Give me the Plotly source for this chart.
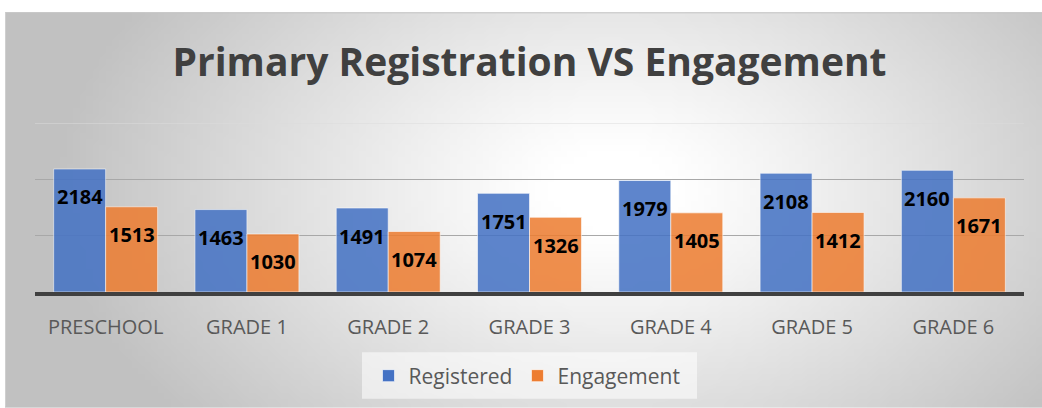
import base64, struct, zlib
import numpy as np
import plotly.graph_objects as go

# ---------------- data ----------------
categories = ["PRESCHOOL", "GRADE 1", "GRADE 2", "GRADE 3", "GRADE 4", "GRADE 5", "GRADE 6"]
registered = [2184, 1463, 1491, 1751, 1979, 2108, 2160]
engagement = [1513, 1030, 1074, 1326, 1405, 1412, 1671]
y_ticks = [0, 1000, 2000, 3000]

# ---------------- layout geometry (screen px) ----------------
W, H = 1042, 408
PL, PR, PT, PB = 35, 1024, 123, 294          # plot area on screen
L, T, R, B = PL, PT, W - PR, H - PB
PW, PH = PR - PL, PB - PT
BARGAP = 0.264

px2x = lambda p: (p - PL) / PW
px2y = lambda p: (PB - p) / PH

# ---------------- radial gradient background (PNG data URI) ----------------
def gradient_uri(w=160, h=64):
    fx0, fy0, fw, fh = 5, 11, 1037, 397
    u = (np.arange(w) + 0.5) / w
    v = (np.arange(h) + 0.5) / h
    X = fx0 + u[None, :] * fw
    Y = fy0 + v[:, None] * fh
    cx, cy, rx, ry = 610, 190, 560, 360
    d = np.sqrt(((X - cx) / rx) ** 2 + ((Y - cy) / ry) ** 2)
    t = np.clip((d - 0.12) / 0.88, 0, 1)
    g = 255 - 62 * t ** 1.1
    arr = g.astype(np.uint8)
    raw = b"".join(b"\x00" + arr[i].tobytes() for i in range(h))

    def chunk(tag, data):
        c = struct.pack(">I", len(data)) + tag + data
        return c + struct.pack(">I", zlib.crc32(tag + data) & 0xffffffff)

    png = b"\x89PNG\r\n\x1a\n" + chunk(b"IHDR", struct.pack(">IIBBBBB", w, h, 8, 0, 0, 0, 0)) \
        + chunk(b"IDAT", zlib.compress(raw, 9)) + chunk(b"IEND", b"")
    return "data:image/png;base64," + base64.b64encode(png).decode()

fig = go.Figure()
fig.add_bar(x=categories, y=registered, name="Registered",
            marker=dict(color="#4472C4", opacity=0.86,
                        line=dict(color="rgba(255,255,255,0.6)", width=1)))
fig.add_bar(x=categories, y=engagement, name="Engagement",
            marker=dict(color="#ED7D31", opacity=0.86,
                        line=dict(color="rgba(255,255,255,0.6)", width=1)))

# data labels placed just below the bar ends
off = (1 - BARGAP) / 4
ann = []
for i, (a, b) in enumerate(zip(registered, engagement)):
    for xv, yv in ((i - off, a), (i + off, b)):
        ann.append(dict(x=xv, y=yv, xref="x", yref="y", text=f"<b>{yv}</b>",
                        showarrow=False, yanchor="middle", yshift=-28,
                        font=dict(family="Open Sans", size=20, color="#000000")))

fig.update_layout(
    width=W, height=H,
    margin=dict(l=L, r=R, t=T, b=B),
    paper_bgcolor="#ffffff",
    plot_bgcolor="rgba(0,0,0,0)",
    barmode="group", bargap=BARGAP, bargroupgap=0.0,
    title=dict(text="<b>Primary Registration VS Engagement</b>",
               x=0.5, xref="paper", xanchor="center",
               y=1 - 62 / H, yref="container", yanchor="middle",
               font=dict(family="Open Sans", size=39, color="#404040")),
    font=dict(family="Open Sans", color="#595959"),
    showlegend=True,
    legend=dict(orientation="h", x=px2x(527), xanchor="center", y=px2y(379), yanchor="middle",
                bgcolor="rgba(0,0,0,0)", font=dict(size=21, color="#595959"),
                itemwidth=30, traceorder="normal"),
    annotations=ann,
    images=[dict(source=gradient_uri(), xref="paper", yref="paper",
                 x=px2x(5), y=px2y(11), sizex=1040 / PW, sizey=400 / PH,
                 xanchor="left", yanchor="top", sizing="stretch", layer="below")],
    shapes=[
        dict(type="line", xref="paper", yref="paper", x0=px2x(5), x1=px2x(1045),
             y0=px2y(11.5), y1=px2y(11.5), line=dict(color="#c4c4c4", width=1), layer="below"),
        dict(type="line", xref="paper", yref="paper", x0=px2x(5.5), x1=px2x(5.5),
             y0=px2y(410), y1=px2y(11), line=dict(color="#cfcfcf", width=1), layer="below"),
        dict(type="rect", xref="paper", yref="paper", x0=px2x(362), x1=px2x(697),
             y0=px2y(402), y1=px2y(355), line=dict(width=0),
             fillcolor="rgba(255,255,255,0.55)", layer="below"),
        dict(type="line", xref="paper", yref="y", x0=0, x1=1, y0=y_ticks[-1], y1=y_ticks[-1],
             line=dict(color="#dcdcdc", width=1), layer="below"),
    ],
)
fig.update_xaxes(showline=True, linecolor="#404040", linewidth=4, ticks="",
                 tickfont=dict(family="Open Sans", size=20, color="#595959"),
                 ticklabelstandoff=14)
fig.update_yaxes(range=[0, y_ticks[-1]], tickvals=y_ticks[1:-1], showticklabels=False,
                 showgrid=True, gridcolor="#a8a8a8", gridwidth=1, zeroline=False)

fig.write_html("out.html", config={"displayModeBar": False},
               post_script="document.body.style.margin='0';document.body.style.overflow='hidden';")
